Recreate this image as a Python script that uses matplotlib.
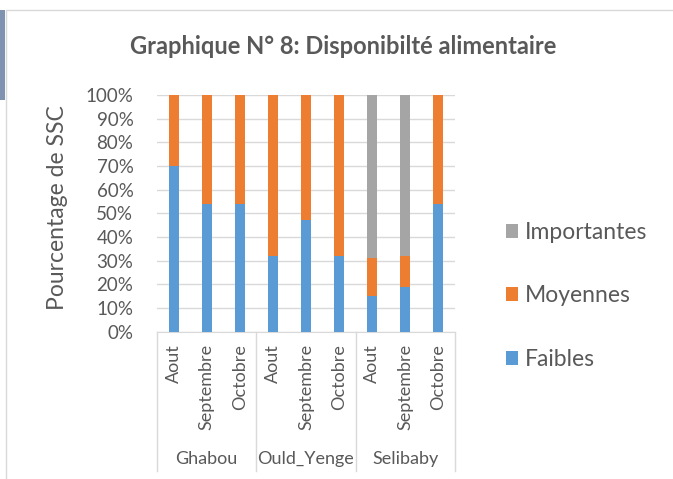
import matplotlib.pyplot as plt
import numpy as np

plt.rcParams['font.family'] = ['Lato', 'DejaVu Sans']

# data
months = ["Aout", "Septembre", "Octobre"] * 3
groups = ["Ghabou", "Ould_Yenge", "Selibaby"]
faibles = [70, 54, 54, 32, 47, 32, 15, 19, 54]
moyennes = [30, 46, 46, 68, 53, 68, 16, 13, 46]
importantes = [0, 0, 0, 0, 0, 0, 69, 68, 0]

c_blue = '#5B9BD5'
c_orange = '#ED7D31'
c_gray = '#A5A5A5'
txt = '#595959'

fig = plt.figure(figsize=(6.73, 4.79), dpi=100)
ax = fig.add_axes([157/673, 1-331.7/479, (455-157)/673, (331.7-95)/479])

x = np.arange(len(months))
w = 0.3
b1 = ax.bar(x, faibles, w, color=c_blue, label="Faibles", zorder=3)
b2 = ax.bar(x, moyennes, w, bottom=faibles, color=c_orange, label="Moyennes", zorder=3)
bot = np.array(faibles) + np.array(moyennes)
b3 = ax.bar(x, importantes, w, bottom=bot, color=c_gray, label="Importantes", zorder=3)

ax.set_xlim(-0.5, 8.5)
ax.set_ylim(0, 100)
ax.set_yticks(range(0, 101, 10))
ax.set_yticklabels([f"{v}%" for v in range(0, 101, 10)], color=txt, fontsize=13.5)
ax.yaxis.grid(True, color='#D9D9D9', linewidth=1, zorder=0)
ax.tick_params(axis='y', length=0, pad=17)
for s in ['top', 'right', 'left']:
    ax.spines[s].set_visible(False)
ax.spines['bottom'].set_color('#D9D9D9')

ax.set_xticks(x)
ax.set_xticklabels(months, rotation=90, color=txt, fontsize=13)
ax.tick_params(axis='x', length=0, pad=9)

# multi-level category axis
tr = ax.get_xaxis_transform()
for sx in [-0.5, 2.5, 5.5, 8.5]:
    ax.plot([sx, sx], [0, -0.588], transform=tr, color='#D9D9D9', lw=1, clip_on=False)
for i, g in enumerate(groups):
    ax.text(3*i + 1, -0.538, g, transform=tr, ha='center', va='center', color=txt, fontsize=13)

fig.text(58/673, 1-207.5/479, "Pourcentage de SSC", rotation=90, ha='center', va='center',
         color=txt, fontsize=16.5)

fig.text(343/673, 1-47/479, "Graphique N° 8: Disponibilté alimentaire", ha='center', va='center',
         color=txt, fontsize=17, fontweight='bold')

fig.legend(handles=[b3, b2, b1], loc='center left', bbox_to_anchor=(485/673, 1-296/479),
           frameon=False, fontsize=16.5, labelcolor=txt, labelspacing=1.85,
           handlelength=0.55, handleheight=0.55, handletextpad=0.3)

# chart border
fig.patches.append(plt.Rectangle((6/673, -0.01), 1, 1-10/479+0.01, transform=fig.transFigure,
                                 fill=False, edgecolor='#D9D9D9', lw=1))
fig.patches.append(plt.Rectangle((0, 1-100/479), 5/673, 90/479, transform=fig.transFigure,
                                 color='#7F93B0', lw=0))

fig.savefig("out.png", dpi=100)
